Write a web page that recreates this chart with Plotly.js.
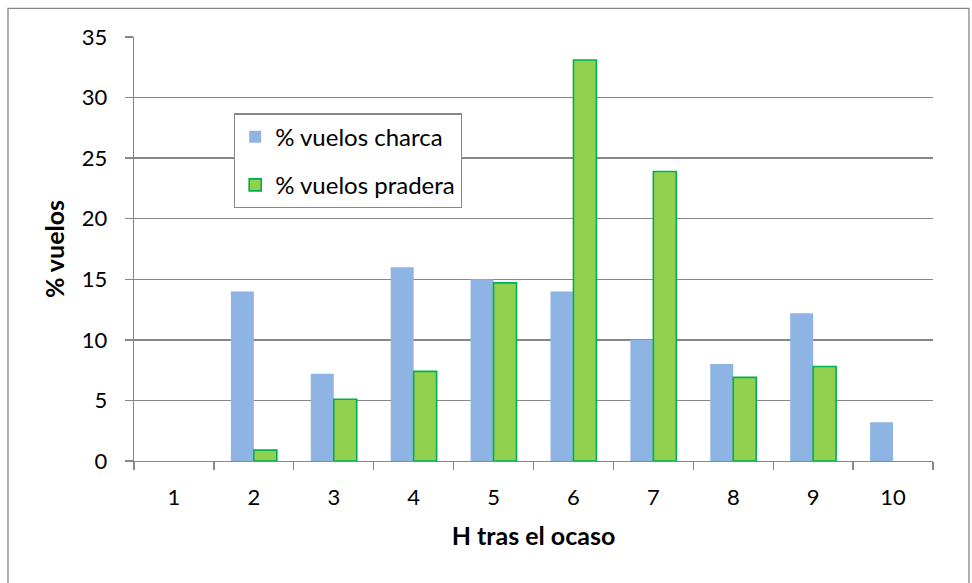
<!DOCTYPE html>
<html>
<head>
<meta charset="utf-8">
<script src="https://cdn.plot.ly/plotly-3.0.1.min.js"></script>
<style>html,body{margin:0;padding:0;background:#fff;}#chart{width:972px;height:583px;}</style>
</head>
<body>
<div id="chart"></div>
<script>
const categories = ["1","2","3","4","5","6","7","8","9","10"];
const charca = [null, 14.0, 7.2, 16.0, 15.0, 14.0, 10.0, 8.0, 12.2, 3.2];
const pradera = [null, 0.9, 5.1, 7.4, 14.7, 33.1, 23.9, 6.9, 7.8, null];
const seriesNames = ["% vuelos charca", "% vuelos pradera"];
const xTitle = "H tras el ocaso";
const yTitle = "% vuelos";

const FONT = "Lato, 'Open Sans', sans-serif";
const GRID = "#878787";

const traces = [
  {type: "bar", name: seriesNames[0], x: categories, y: charca, legendgroup: "a",
   marker: {color: "#8EB4E3", line: {width: 0}}, hoverinfo: "x+y"},
  {type: "bar", name: seriesNames[1], x: categories, y: pradera, legendgroup: "b",
   marker: {color: "#92D050", line: {color: "#00B050", width: 1.6}}, hoverinfo: "x+y"}
];

const layout = {
  width: 972, height: 583,
  margin: {l: 134, r: 39, t: 37, b: 122},
  paper_bgcolor: "#ffffff", plot_bgcolor: "#ffffff",
  font: {family: FONT, size: 22, color: "#000"},
  barmode: "group", bargap: 0.425, bargroupgap: 0,
  showlegend: true,
  legend: {x: 0.125, y: 0.82, xanchor: "left", yanchor: "top",
           bgcolor: "#fff", bordercolor: GRID, borderwidth: 1.3,
           font: {family: FONT, size: 24, color: "#000"},
           traceorder: "grouped", tracegroupgap: 14, itemwidth: 30},
  xaxis: {type: "category", range: [-0.5, 9.5], tickson: "boundaries",
          ticks: "outside", ticklen: 8, tickcolor: GRID, tickwidth: 1.3,
          showline: true, linecolor: GRID, linewidth: 1.3, showgrid: false, zeroline: false,
          tickfont: {family: FONT, size: 22, color: "#000"}, ticklabelstandoff: 16,
          title: {text: xTitle, font: {family: FONT, size: 25, color: "#000", weight: "bold"}, standoff: 18},
          automargin: false, fixedrange: true},
  yaxis: {range: [0, 35], dtick: 5, tick0: 0,
          ticks: "outside", ticklen: 8, tickcolor: GRID, tickwidth: 1.3,
          showline: true, linecolor: GRID, linewidth: 1.3,
          showgrid: true, gridcolor: GRID, gridwidth: 1.3, zeroline: false,
          tickfont: {family: FONT, size: 22, color: "#000"}, ticklabelstandoff: 13,
          title: {text: yTitle, font: {family: FONT, size: 25, color: "#000", weight: "bold"}, standoff: 10},
          automargin: false, fixedrange: true},
  shapes: [
    {type: "rect", xref: "paper", yref: "paper",
     x0: (8 - 134) / 799, x1: (969 - 134) / 799,
     y0: (461 - 600) / 423.4, y1: (461 - 9) / 423.4,
     line: {color: GRID, width: 1.3}, fillcolor: "rgba(0,0,0,0)", layer: "below"}
  ]
};

Plotly.newPlot("chart", traces, layout, {displayModeBar: false, staticPlot: true});
</script>
</body>
</html>
